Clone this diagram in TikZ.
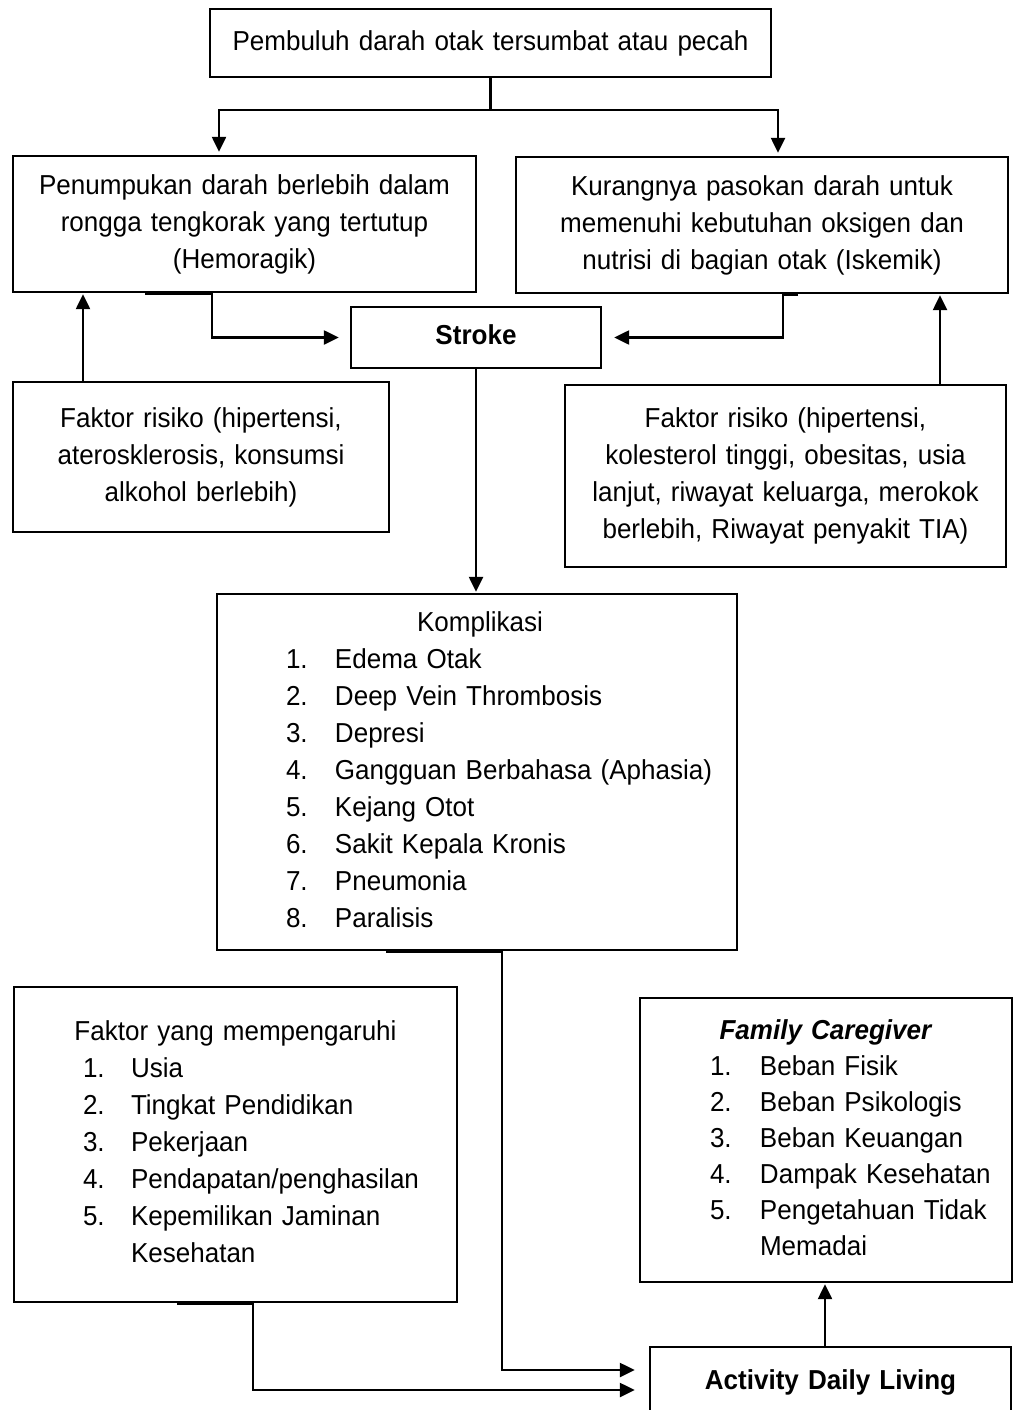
\documentclass[tikz,border=0pt]{standalone}
\usepackage{fontspec}
\setmainfont[FakeStretch=0.95]{Liberation Sans}
\usetikzlibrary{arrows.meta,calc}
\newcommand{\myitem}[3]{\hspace*{#1}\makebox[#2][l]{#3}}
\begin{document}
\begin{tikzpicture}[x=1pt,y=-1pt,
  box/.style={draw, line width=2.4pt, rectangle, inner sep=0pt, align=center,
    font=\fontsize{27.4}{37}\selectfont,
    execute at begin node=\strut, execute at end node=\strut},
  listbox/.style={box, align=left},
  conn/.style={line width=2.4pt},
  arr/.style={conn, -{Triangle[length=15pt,width=14pt]}}]
\useasboundingbox (0,0) rectangle (1014,1410);
\begin{scope}
\clip (0,0) rectangle (1014,1410);

% boxes
\node[box, minimum width=561pt, minimum height=68pt, text width=540pt] (top) at (490.5,43)
  {Pembuluh darah otak tersumbat atau pecah};
\node[box, minimum width=463pt, minimum height=136pt, text width=450pt] (hem) at (244.5,224)
  {Penumpukan darah berlebih dalam\\rongga tengkorak yang tertutup\\(Hemoragik)};
\node[box, minimum width=492pt, minimum height=136pt, text width=480pt] (isk) at (762,225)
  {Kurangnya pasokan darah untuk\\memenuhi kebutuhan oksigen dan\\nutrisi di bagian otak (Iskemik)};
\node[box, minimum width=250pt, minimum height=61pt, text width=240pt] (stroke) at (476,337.5)
  {\textbf{Stroke}};
\node[box, minimum width=376pt, minimum height=150pt, text width=360pt] (rf1) at (201,457)
  {Faktor risiko (hipertensi,\\aterosklerosis, konsumsi\\alkohol berlebih)};
\node[box, minimum width=441pt, minimum height=182pt, text width=430pt] (rf2) at (785.5,476)
  {Faktor risiko (hipertensi,\\kolesterol tinggi, obesitas, usia\\lanjut, riwayat keluarga, merokok\\berlebih, Riwayat penyakit TIA)};
\node[listbox, minimum width=520pt, minimum height=356pt, text width=520pt] (komp) at (477,772)
  {\hspace*{3pt}\makebox[520pt]{Komplikasi}\\
   \myitem{69pt}{49pt}{1.}Edema Otak\\
   \myitem{69pt}{49pt}{2.}Deep Vein Thrombosis\\
   \myitem{69pt}{49pt}{3.}Depresi\\
   \myitem{69pt}{49pt}{4.}Gangguan Berbahasa (Aphasia)\\
   \myitem{69pt}{49pt}{5.}Kejang Otot\\
   \myitem{69pt}{49pt}{6.}Sakit Kepala Kronis\\
   \myitem{69pt}{49pt}{7.}Pneumonia\\
   \myitem{69pt}{49pt}{8.}Paralisis};
\node[listbox, minimum width=443pt, minimum height=315pt, text width=443pt] (fac) at (235.5,1144.5)
  {\makebox[443pt]{Faktor yang mempengaruhi}\\
   \myitem{69pt}{48pt}{1.}Usia\\
   \myitem{69pt}{48pt}{2.}Tingkat Pendidikan\\
   \myitem{69pt}{48pt}{3.}Pekerjaan\\
   \myitem{69pt}{48pt}{4.}Pendapatan/penghasilan\\
   \myitem{69pt}{48pt}{5.}Kepemilikan Jaminan\\
   \myitem{69pt}{48pt}{}Kesehatan};
\node[listbox, font=\fontsize{27.4}{36}\selectfont, minimum width=372pt, minimum height=284pt, text width=372pt] (fam) at (826,1140)
  {\makebox[372pt]{\textbf{\textit{Family Caregiver}}}\\
   \myitem{70pt}{50pt}{1.}Beban Fisik\\
   \myitem{70pt}{50pt}{2.}Beban Psikologis\\
   \myitem{70pt}{50pt}{3.}Beban Keuangan\\
   \myitem{70pt}{50pt}{4.}Dampak Kesehatan\\
   \myitem{70pt}{50pt}{5.}Pengetahuan Tidak\\
   \myitem{70pt}{50pt}{}Memadai};
\node[box, minimum width=361pt, minimum height=71pt, text width=350pt] (adl) at (830.5,1382.5)
  {\textbf{Activity Daily Living}};

% connectors
\coordinate (bl) at (219,110);
\coordinate (brr) at (778,110);
\draw[arr, shorten >=3pt] (top.south) |- (bl) -- (bl |- hem.north);
\draw[arr, shorten >=3pt] (top.south) |- (brr) -- (brr |- isk.north);

\draw[arr, shorten >=11pt] ([xshift=-99.5pt,yshift=-1pt]hem.south) -- ([xshift=-32.5pt,yshift=-1pt]hem.south) |- (stroke.west);
\draw[arr, shorten >=12pt] ([xshift=36pt,yshift=-1pt]isk.south) -- ([xshift=21pt,yshift=-1pt]isk.south) |- (stroke.east);

\coordinate (r1) at ([xshift=-118pt]rf1.north);
\draw[arr, shorten >=1pt] (r1) -- (r1 |- hem.south);
\coordinate (r2) at ([xshift=154.5pt]rf2.north);
\draw[arr, shorten >=1pt] (r2) -- (r2 |- isk.south);

\draw[arr, shorten >=1pt] (stroke.south) -- (stroke.south |- komp.north);

\coordinate (k1) at ([xshift=25pt]komp.south);
\draw[arr, shorten >=14pt] ([xshift=-91pt,yshift=-1pt]komp.south) -- ([yshift=-1pt]k1) |- ([yshift=12.5pt]adl.west);
\coordinate (f1) at ([xshift=17.5pt]fac.south);
\draw[arr, shorten >=14pt] ([xshift=-58.5pt,yshift=-1pt]fac.south) -- ([yshift=-1pt]f1) |- ([yshift=-7.5pt]adl.west);

\coordinate (a1) at ([xshift=-5.5pt]adl.north);
\draw[arr, shorten >=1pt] (a1) -- (a1 |- fam.south);
\end{scope}
\end{tikzpicture}
\end{document}
